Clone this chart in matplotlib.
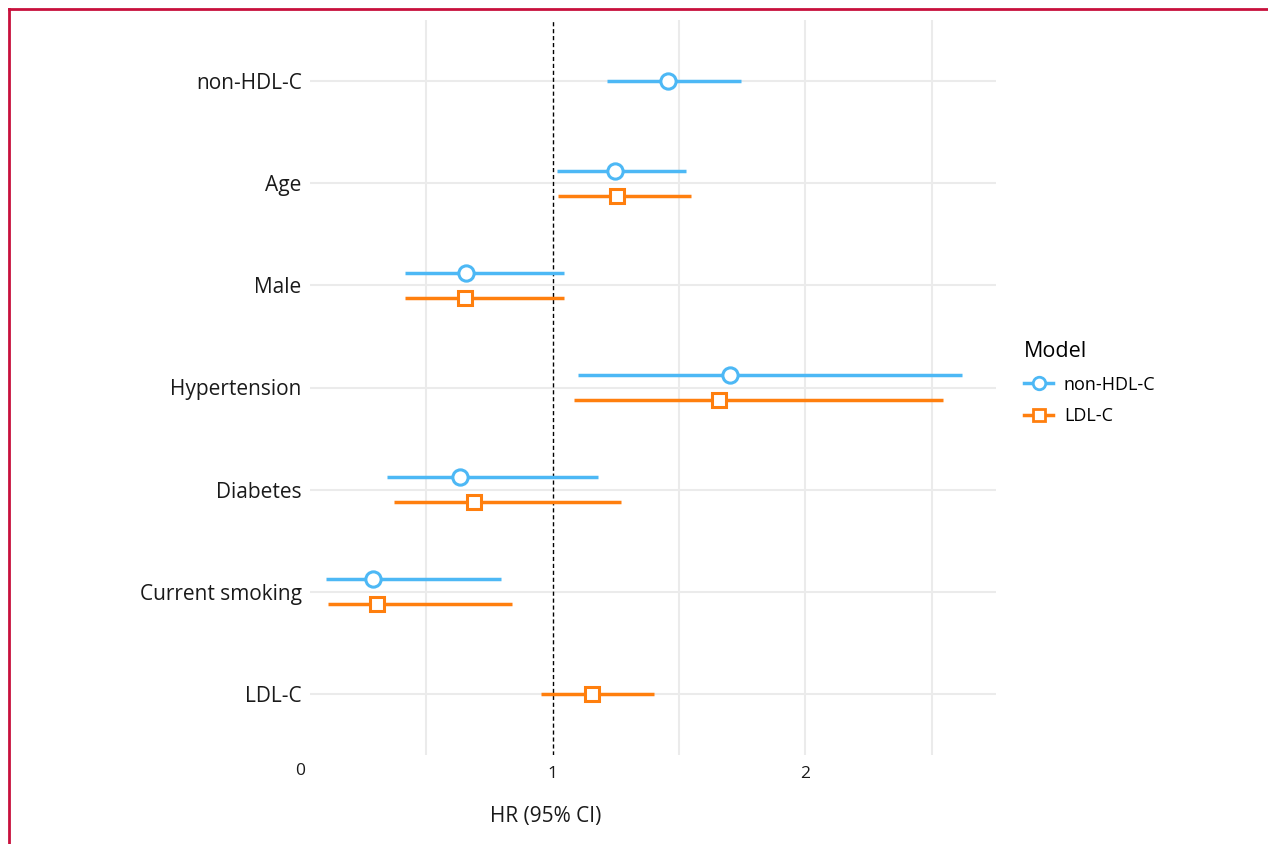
"""Forest plot of hazard ratios for non-HDL-C and LDL-C models."""

import matplotlib
matplotlib.use('Agg')
import matplotlib.pyplot as plt
import matplotlib.transforms as mtransforms
from matplotlib.lines import Line2D
import numpy as np

plt.rcParams['font.family'] = ['Open Sans', 'DejaVu Sans']

variables = ['non-HDL-C', 'Age', 'Male', 'Hypertension', 'Diabetes',
             'Current smoking', 'LDL-C']

# non-HDL-C model (None = not in model)
nonhdl_hr = [1.458, 1.247, 0.657, 1.702, 0.633, 0.290, None]
nonhdl_lo = [1.217, 1.016, 0.416, 1.100, 0.344, 0.105, None]
nonhdl_hi = [1.745, 1.527, 1.045, 2.620, 1.180, 0.796, None]

# LDL-C model
ldl_hr = [None, 1.254, 0.653, 1.659, 0.689, 0.306, 1.155]
ldl_lo = [None, 1.023, 0.416, 1.085, 0.372, 0.112, 0.954]
ldl_hi = [None, 1.547, 1.045, 2.545, 1.271, 0.839, 1.403]

BLUE = '#4DB8F5'
ORANGE = '#FF7F0E'
GRID = '#EBEBEB'
TXT = '#1a1a1a'

fig = plt.figure(figsize=(12.68, 8.44), dpi=100, facecolor='white')
W, H = 1268, 844
ax = fig.add_axes([310 / W, 1 - 755 / H, (996 - 310) / W, (755 - 20) / H])

y = np.arange(len(variables))
ax.set_ylim(6.6, -0.6)
ax.set_xlim(0.04, 2.755)

# gridlines
for gx in [0.5, 1.5, 2.0, 2.5]:
    ax.axvline(gx, color=GRID, lw=1.5, zorder=0)
for gy in y:
    ax.axhline(gy, color=GRID, lw=1.5, zorder=0)
ax.axvline(1, color='black', lw=1, ls=(0, (3, 2)), zorder=1)

off = 0.125


def draw(hr, lo, hi, color, marker, sign):
    for i in range(len(variables)):
        if hr[i] is None:
            continue
        both = nonhdl_hr[i] is not None and ldl_hr[i] is not None
        yy = y[i] + (sign * off if both else 0)
        ax.plot([lo[i], hi[i]], [yy, yy], color=color, lw=2.5,
                solid_capstyle='butt', zorder=2)
        ax.plot(hr[i], yy, marker=marker, ms=11 if marker == 'o' else 10,
                mfc='white', mec=color, mew=2.2, zorder=3, ls='none')


draw(nonhdl_hr, nonhdl_lo, nonhdl_hi, BLUE, 'o', -1)
draw(ldl_hr, ldl_lo, ldl_hi, ORANGE, 's', 1)

ax.set_yticks(y)
ax.set_yticklabels(variables, fontsize=15, color=TXT)
ax.set_xticks([1, 2])
ax.set_xticklabels(['1', '2'], fontsize=12.5, color=TXT)
ax.tick_params(axis='y', length=0, pad=6)
ax.tick_params(axis='x', length=0, pad=8)
# "0" sits just left of the panel edge
trans = mtransforms.blended_transform_factory(ax.transData, ax.transAxes)
ax.text(0, -(763 - 755) / (755 - 20), '0', transform=trans, fontsize=12.5,
        color=TXT, ha='center', va='top', clip_on=False)
for s in ax.spines.values():
    s.set_visible(False)

ax.set_xlabel('HR (95% CI)', fontsize=15, color=TXT)
ax.xaxis.set_label_coords((546 - 310) / (996 - 310), -(806 - 755) / (755 - 20))
ax.xaxis.label.set_va('top')

handles = [
    Line2D([], [], color=BLUE, lw=2.5, marker='o', ms=9, mfc='white', mec=BLUE, mew=2),
    Line2D([], [], color=ORANGE, lw=2.5, marker='s', ms=8, mfc='white', mec=ORANGE, mew=2),
]
leg = fig.legend(handles, ['non-HDL-C', 'LDL-C'], title='Model',
                 loc='upper left', bbox_to_anchor=(1008 / W, 1 - 325 / H),
                 frameon=False, fontsize=13, title_fontsize=15.5,
                 handlelength=1.6, handletextpad=0.6, labelspacing=0.75)
leg._legend_box.align = 'left'

# crimson frame (top and left edges)
fig.add_artist(Line2D([9 / W, 1], [1 - 9 / H, 1 - 9 / H], color='#C8103C', lw=2,
                      transform=fig.transFigure))
fig.add_artist(Line2D([9 / W, 9 / W], [0, 1 - 9 / H], color='#C8103C', lw=2,
                      transform=fig.transFigure))

fig.savefig('out.png', dpi=100, facecolor='white')
